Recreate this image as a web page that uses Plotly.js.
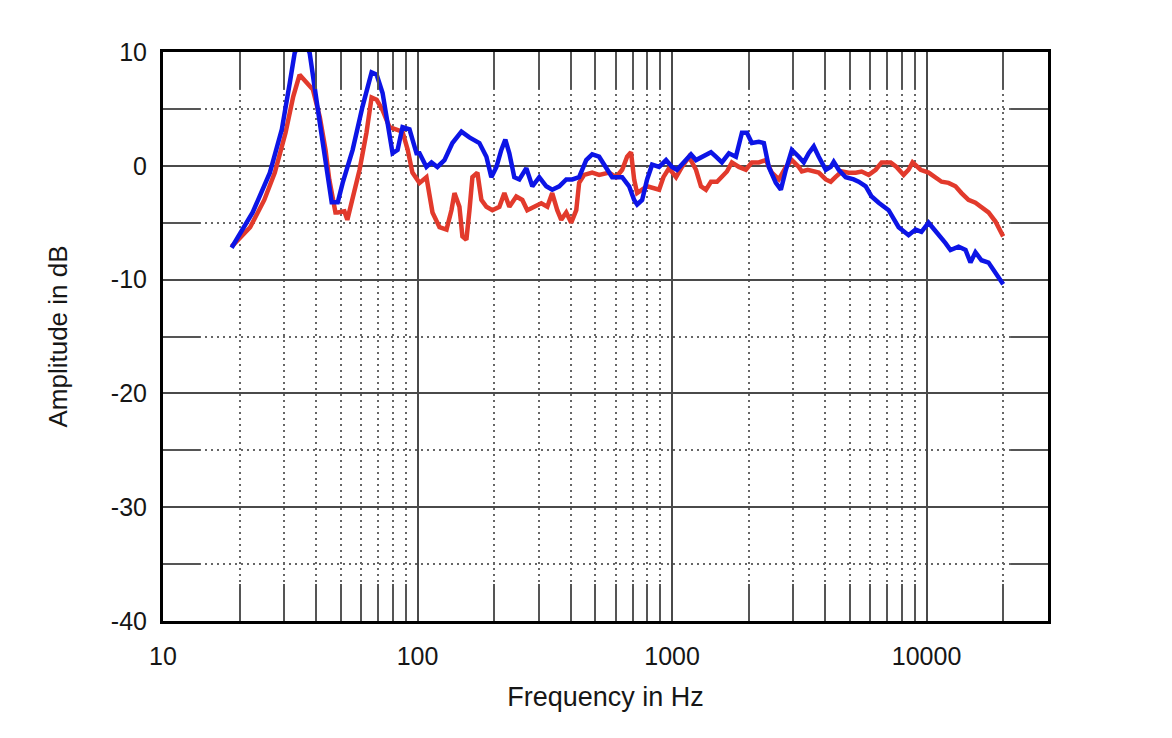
<!DOCTYPE html>
<html>
<head>
<meta charset="utf-8">
<script src="https://cdn.plot.ly/plotly-3.0.1.min.js"></script>
<style>
  html, body { margin: 0; padding: 0; background: #ffffff; }
  #chart { width: 1172px; height: 738px; }
</style>
</head>
<body>
<div id="chart"></div>
<script>
// Blue response: frequency (Hz) and amplitude (dB)
const blueFreq = [18.6, 22.5, 26.3, 29.3, 31.5, 32.9, 35.2, 37.7, 41.3, 44.0, 46.0, 48.6, 50.8, 55.6, 60.8, 66.0, 69.1, 72.9, 77.6, 79.8, 83.5, 87.3, 93.0, 99.1, 101.8, 108.4, 113.5, 119.7, 127.6, 137.1, 148.8, 159.9, 175.0, 186.5, 195.0, 204.2, 213.4, 221.3, 229.5, 240, 251.2, 267.6, 282.5, 300.8, 320.5, 338.2, 360.5, 384, 405.5, 431.5, 460, 485.6, 517, 550.8, 581.7, 636.9, 678.4, 709.8, 729.3, 762.9, 798, 835, 889.5, 947.4, 1000, 1046, 1134, 1187, 1242, 1311, 1422, 1487, 1570, 1673, 1782, 1882, 1968, 2059, 2193, 2295, 2400, 2558, 2676, 2800, 2956, 3148, 3293, 3444, 3605, 3771, 4018, 4203, 4318, 4516, 4812, 5172, 5409, 5768, 6084, 6486, 7096, 7768, 8497, 9054, 9550, 10183, 10944, 11870, 12415, 13355, 14226, 14875, 15560, 16432, 17516, 18650, 20000];
const blueDb   = [-7.2, -4.1, -0.6, 3.2, 7.3, 9.9, 11.5, 9.9, 3.8, -0.6, -3.2, -3.2, -1.5, 1.4, 5.2, 8.2, 8.0, 6.4, 2.9, 1.1, 1.4, 3.4, 3.2, 1.1, 1.1, -0.1, 0.3, -0.1, 0.5, 2.0, 3.0, 2.5, 2.0, 0.8, -1.0, -0.1, 1.4, 2.3, 1.1, -1.0, -1.2, -0.2, -1.8, -1.0, -1.8, -2.1, -1.8, -1.2, -1.2, -1.0, 0.5, 1.0, 0.8, -0.1, -1.0, -1.0, -1.8, -3.0, -3.4, -3.0, -1.2, 0.1, -0.1, 0.5, -0.1, -0.35, 0.5, 1.0, 0.5, 0.8, 1.2, 0.8, 0.3, 1.1, 0.8, 2.9, 2.9, 2.0, 2.1, 2.0, -0.1, -1.5, -2.1, -0.35, 1.4, 0.8, 0.3, 1.1, 1.7, 0.8, -0.35, -0.1, 0.35, -0.35, -1.0, -1.2, -1.4, -1.8, -2.7, -3.25, -3.9, -5.4, -6.1, -5.6, -5.8, -5.0, -5.8, -6.8, -7.4, -7.1, -7.4, -8.5, -7.6, -8.3, -8.5, -9.4, -10.4];

// Red response: frequency (Hz) and amplitude (dB)
const redFreq = [18.6, 22.0, 25.0, 27.5, 30.3, 32.5, 34.4, 36.8, 38.8, 41.3, 43.5, 45.0, 47.6, 48.6, 51.6, 53.0, 55.6, 59.2, 63.0, 66.0, 69.1, 72.9, 77.6, 83.5, 87.3, 91.5, 95.5, 101.8, 108.4, 114.5, 122, 130, 135.9, 139.7, 146.1, 150.1, 155.6, 160, 164.3, 171.9, 178.2, 186.5, 196.8, 209.7, 219.4, 229.5, 244.4, 258.1, 269.9, 287.5, 306.4, 323.6, 338.2, 354, 367, 384, 401.8, 420.4, 431.5, 451.6, 485.6, 517, 566, 603, 636.9, 666, 690, 709.8, 729.3, 762.9, 798, 889.5, 925, 973, 1037, 1094, 1166, 1242, 1299, 1359, 1422, 1502, 1570, 1643, 1718, 1831, 1950, 2059, 2193, 2336, 2466, 2628, 2800, 2956, 3148, 3236, 3413, 3771, 4018, 4203, 4385, 4642, 4942, 5267, 5559, 5924, 6310, 6661, 7224, 7621, 8128, 8497, 8810, 9474, 10183, 10839, 11454, 12197, 12993, 13718, 14610, 15560, 16432, 17516, 18650, 20000];
const redDb   = [-7.1, -5.4, -3.0, -0.6, 2.9, 6.1, 8.0, 7.3, 6.7, 4.3, 1.4, -1.2, -4.1, -4.1, -4.0, -4.75, -2.7, -0.35, 2.9, 6.0, 5.8, 4.9, 3.4, 3.2, 3.0, 1.4, -0.6, -1.5, -1.0, -4.1, -5.4, -5.6, -3.9, -2.4, -3.6, -6.2, -6.5, -3.9, -1.0, -0.6, -3.0, -3.6, -3.9, -3.6, -2.4, -3.6, -2.7, -3.0, -3.9, -3.6, -3.3, -3.6, -2.4, -3.9, -4.75, -4.1, -5.0, -3.9, -1.5, -0.8, -0.6, -0.8, -0.6, -1.0, -0.35, 0.8, 1.2, -1.2, -2.4, -2.1, -1.8, -2.1, -1.0, -0.2, -1.0, -0.1, 0.8, -0.35, -1.8, -2.1, -1.4, -1.4, -1.0, -0.5, 0.3, -0.1, -0.35, 0.3, 0.3, 0.5, -0.6, -1.2, -0.1, 0.5, -0.1, -0.5, -0.35, -0.6, -1.2, -1.4, -1.0, -0.5, -0.6, -0.6, -0.5, -0.8, -0.35, 0.3, 0.3, -0.1, -0.8, -0.35, 0.3, -0.35, -0.6, -1.0, -1.4, -1.5, -1.8, -2.4, -3.0, -3.25, -3.6, -4.1, -4.9, -6.2];

// Axis ticks
const xMajorTicks = [10, 100, 1000, 10000];
const xTickLabels = ['10', '100', '1000', '10000'];
const xMinorTicks = [20, 30, 40, 50, 60, 70, 80, 90,
                     200, 300, 400, 500, 600, 700, 800, 900,
                     2000, 3000, 4000, 5000, 6000, 7000, 8000, 9000,
                     20000];
const yMajorTicks = [10, 0, -10, -20, -30, -40];
const yTickLabels = ['10', '0', '-10', '-20', '-30', '-40'];
const yMinorTicks = [5, -5, -15, -25, -35];

const fontFamily = '"Liberation Sans", Arial, Helvetica, sans-serif';
const textColor = '#161616';
const majorGrid = '#4a4a4a';
const minorGrid = '#666666';

const traces = [
  {
    x: redFreq, y: redDb, type: 'scatter', mode: 'lines',
    line: { color: '#e23a2c', width: 4.5 },
    hoverinfo: 'skip'
  },
  {
    x: blueFreq, y: blueDb, type: 'scatter', mode: 'lines',
    line: { color: '#0c14e6', width: 4.5 },
    hoverinfo: 'skip'
  }
];

const layout = {
  width: 1172,
  height: 738,
  margin: { l: 163, r: 124, t: 52, b: 117 },
  paper_bgcolor: '#ffffff',
  plot_bgcolor: '#ffffff',
  showlegend: false,
  font: { family: fontFamily, size: 25, color: textColor },
  xaxis: {
    type: 'log',
    range: [1, Math.log10(30000)],
    tickmode: 'array',
    tickvals: xMajorTicks,
    ticktext: xTickLabels,
    ticks: '',
    showgrid: true,
    gridcolor: majorGrid,
    gridwidth: 2,
    showline: true,
    linecolor: '#000000',
    linewidth: 3,
    mirror: 'allticks',
    zeroline: false,
    ticklabelstandoff: 11,
    tickfont: { family: fontFamily, size: 25, color: textColor },
    minor: {
      tickmode: 'array',
      tickvals: xMinorTicks,
      ticks: 'inside',
      ticklen: 37,
      tickwidth: 2,
      tickcolor: '#555555',
      showgrid: true,
      gridcolor: minorGrid,
      gridwidth: 2,
      griddash: '2px,4px'
    },
    title: {
      text: 'Frequency in Hz',
      font: { family: fontFamily, size: 27, color: textColor },
      standoff: 19
    }
  },
  yaxis: {
    range: [-40, 10],
    tickmode: 'array',
    tickvals: yMajorTicks,
    ticktext: yTickLabels,
    ticks: '',
    showgrid: true,
    gridcolor: majorGrid,
    gridwidth: 2,
    showline: true,
    linecolor: '#000000',
    linewidth: 3,
    mirror: 'allticks',
    zeroline: false,
    ticklabelstandoff: 8,
    tickfont: { family: fontFamily, size: 25, color: textColor },
    minor: {
      tickmode: 'array',
      tickvals: yMinorTicks,
      ticks: 'inside',
      ticklen: 37,
      tickwidth: 2,
      tickcolor: '#555555',
      showgrid: true,
      gridcolor: minorGrid,
      gridwidth: 2,
      griddash: '2px,4px'
    },
    title: {
      text: 'Amplitude in dB',
      font: { family: fontFamily, size: 26, color: textColor },
      standoff: 36
    }
  }
};

Plotly.newPlot('chart', traces, layout, { staticPlot: true, displayModeBar: false });
</script>
</body>
</html>
